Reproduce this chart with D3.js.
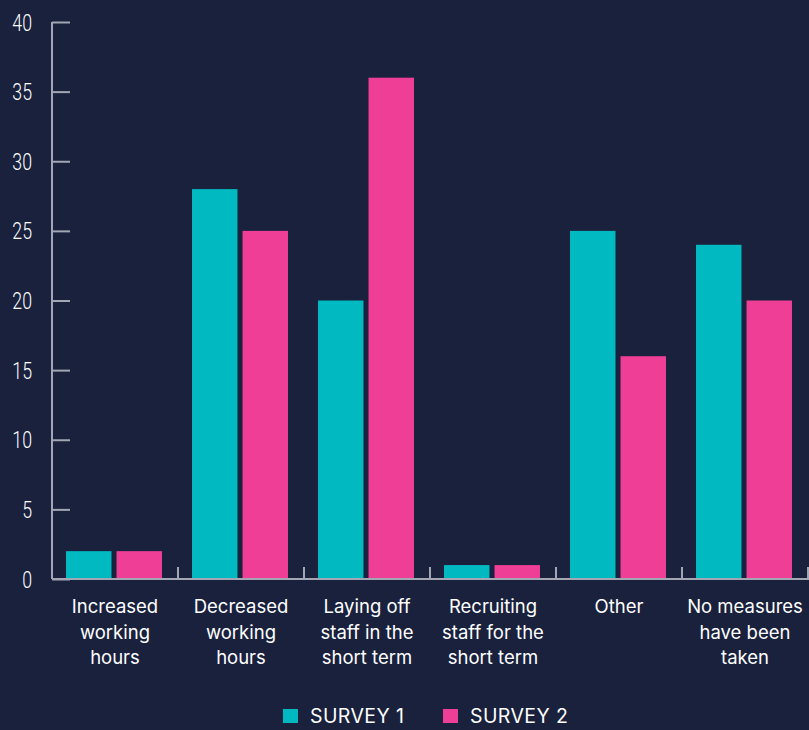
<!DOCTYPE html>
<html>
<head>
<meta charset="utf-8">
<script src="https://cdn.jsdelivr.net/npm/d3@7"></script>
<style>
  html, body { margin: 0; padding: 0; background: #19213d; }
  svg { display: block; }
</style>
</head>
<body>
<svg id="chart" width="809" height="730"></svg>
<script>
// Responses to staffing measures, two survey waves
const categories = [
  ["Increased", "working", "hours"],
  ["Decreased", "working", "hours"],
  ["Laying off", "staff in the", "short term"],
  ["Recruiting", "staff for the", "short term"],
  ["Other"],
  ["No measures", "have been", "taken"]
];
const survey1 = [2, 28, 20, 1, 25, 24];
const survey2 = [2, 25, 36, 1, 16, 20];
const seriesNames = ["SURVEY 1", "SURVEY 2"];
const seriesColors = ["#00b9c1", "#ee3e96"];
const yTicks = [0, 5, 10, 15, 20, 25, 30, 35, 40];

const svg = d3.select("#chart");
const plotLeft = 52, plotRight = 808, plotTop = 22, plotBottom = 579;
const axisColor = "#a3a7b3";

const idx = d3.range(categories.length);
const x = d3.scaleBand().domain(idx).range([plotLeft, plotRight]).paddingInner(0).paddingOuter(0);
const inner = d3.scaleBand().domain([0, 1]).range([14, 110]).paddingInner(0.1);
const y = d3.scaleLinear().domain([0, 40]).range([plotBottom, plotTop]);

// bars
const series = [survey1, survey2];
series.forEach((vals, s) => {
  svg.append("g").selectAll("rect").data(vals).join("rect")
    .attr("x", (d, i) => x(i) + inner(s))
    .attr("width", inner.bandwidth())
    .attr("y", d => y(d))
    .attr("height", d => y(0) - y(d))
    .attr("fill", seriesColors[s]);
});

// y axis
const yAxis = svg.append("g").attr("transform", `translate(${plotLeft},0)`)
  .call(d3.axisRight(y).tickValues(yTicks).tickSize(18).tickFormat(""));
yAxis.select(".domain").attr("stroke", axisColor).attr("stroke-width", 2).attr("d", `M0,${plotTop}V${plotBottom}`);
yAxis.selectAll(".tick line").attr("stroke", axisColor).attr("stroke-width", 2);

// condensed light tick numbers
svg.append("g").selectAll("text").data(yTicks).join("text")
  .attr("text-anchor", "end")
  .attr("fill", "#ffffff")
  .attr("font-family", "Roboto, sans-serif")
  .attr("font-weight", 300)
  .attr("font-size", 24)
  .attr("transform", d => `translate(32,${y(d) + 8.5}) scale(0.74,1)`)
  .text(d => d);

// x axis
const xAxis = svg.append("g").attr("transform", `translate(0,${plotBottom})`);
xAxis.append("line").attr("x1", plotLeft).attr("x2", plotRight + 1)
  .attr("stroke", axisColor).attr("stroke-width", 2);
xAxis.selectAll("line.tk").data(idx).join("line").attr("class", "tk")
  .attr("x1", i => x(i) + x.bandwidth()).attr("x2", i => x(i) + x.bandwidth())
  .attr("y1", 0).attr("y2", -12)
  .attr("stroke", axisColor).attr("stroke-width", 2);

// category labels
const lab = svg.append("g").selectAll("text").data(categories).join("text")
  .attr("text-anchor", "middle")
  .attr("fill", "#ffffff")
  .attr("font-family", "Inter, 'Open Sans', sans-serif")
  .attr("font-size", 18.5);
lab.each(function(lines, i) {
  d3.select(this).selectAll("tspan").data(lines).join("tspan")
    .attr("x", x(i) + x.bandwidth() / 2)
    .attr("y", (d, k) => 613 + k * 25.5)
    .text(d => d);
});

// legend
const legend = svg.append("g");
const legendX = [283, 443];
seriesNames.forEach((name, s) => {
  legend.append("rect").attr("x", legendX[s]).attr("y", 709)
    .attr("width", 15).attr("height", 14).attr("fill", seriesColors[s]);
  legend.append("text").attr("x", legendX[s] + 27).attr("y", 723)
    .attr("fill", "#ffffff")
    .attr("font-family", "Inter, 'Open Sans', sans-serif")
    .attr("font-size", 19.5)
    .attr("letter-spacing", 0.4)
    .text(name);
});
</script>
</body>
</html>
